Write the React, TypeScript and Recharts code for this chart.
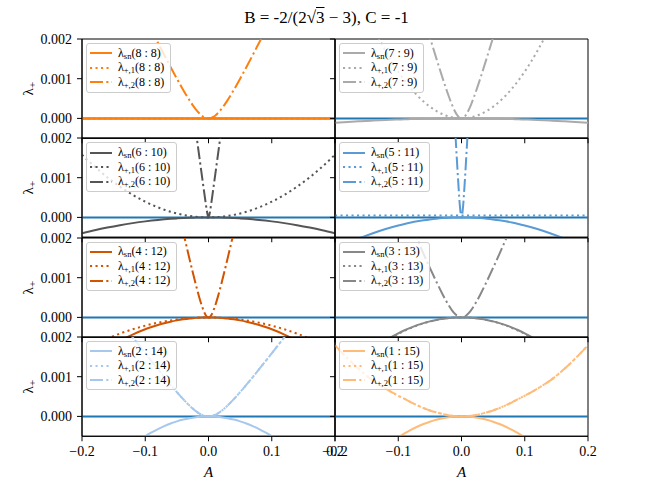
import React from 'react';
import { LineChart, Line, XAxis, YAxis, ReferenceArea } from 'recharts';

// sample points along A (shared by every panel)
const A_VALUES = [-0.2, -0.18, -0.16, -0.14, -0.12, -0.1, -0.09, -0.08, -0.07, -0.06, -0.05, -0.04, -0.03, -0.025, -0.02, -0.015, -0.01, -0.0075, -0.005, -0.0025, 0, 0.0025, 0.005, 0.0075, 0.01, 0.015, 0.02, 0.025, 0.03, 0.04, 0.05, 0.06, 0.07, 0.08, 0.09, 0.1, 0.12, 0.14, 0.16, 0.18, 0.2];
const X_TICKS = [-0.2, -0.1, 0, 0.1, 0.2];
const Y_TICKS = [0, 0.001, 0.002];
const Y_MIN = -0.0005;
const Y_MAX = 0.002;

// 8 : 8
const SN_8_8 = [0, 0, 0, 0, 0, 0, 0, 0, 0, 0, 0, 0, 0, 0, 0, 0, 0, 0, 0, 0, 0, 0, 0, 0, 0, 0, 0, 0, 0, 0, 0, 0, 0, 0, 0, 0, 0, 0, 0, 0, 0];
const P1_8_8 = [0, 0, 0, 0, 0, 0, 0, 0, 0, 0, 0, 0, 0, 0, 0, 0, 0, 0, 0, 0, 0, 0, 0, 0, 0, 0, 0, 0, 0, 0, 0, 0, 0, 0, 0, 0, 0, 0, 0, 0, 0];
const P2_8_8 = [5.72e-3, 5.08e-3, 4.44e-3, 3.8e-3, 3.16e-3, 2.53e-3, 2.216e-3, 1.906e-3, 1.598e-3, 1.296e-3, 1.0e-3, 7.18e-4, 4.55e-4, 3.36e-4, 2.27e-4, 1.35e-4, 6.2e-5, 3.6e-5, 1.6e-5, 4e-6, 0, 4e-6, 1.6e-5, 3.6e-5, 6.2e-5, 1.35e-4, 2.27e-4, 3.36e-4, 4.55e-4, 7.18e-4, 1.0e-3, 1.296e-3, 1.598e-3, 1.906e-3, 2.216e-3, 2.53e-3, 3.16e-3, 3.8e-3, 4.44e-3, 5.08e-3, 5.72e-3];

// 7 : 9
const SN_7_9 = [-1.12e-4, -9.1e-5, -7.2e-5, -5.5e-5, -4e-5, -2.8e-5, -2.3e-5, -1.8e-5, -1.4e-5, -1e-5, -7e-6, -4.5e-6, -2.5e-6, -1.8e-6, -1.1e-6, -6e-7, -3e-7, -2e-7, -1e-7, 0, 0, 0, -1e-7, -2e-7, -3e-7, -6e-7, -1.1e-6, -1.8e-6, -2.5e-6, -4.5e-6, -7e-6, -1e-5, -1.4e-5, -1.8e-5, -2.3e-5, -2.8e-5, -4e-5, -5.5e-5, -7.2e-5, -9.1e-5, -1.12e-4];
const P1_7_9 = [4.72e-3, 3.82e-3, 3.02e-3, 2.31e-3, 1.7e-3, 1.18e-3, 9.56e-4, 7.55e-4, 5.78e-4, 4.25e-4, 2.95e-4, 1.89e-4, 1.06e-4, 7.4e-5, 4.7e-5, 2.66e-5, 1.18e-5, 6.6e-6, 3e-6, 7e-7, 0, 7e-7, 3e-6, 6.6e-6, 1.18e-5, 2.66e-5, 4.7e-5, 7.4e-5, 1.06e-4, 1.89e-4, 2.95e-4, 4.25e-4, 5.78e-4, 7.55e-4, 9.56e-4, 1.18e-3, 1.7e-3, 2.31e-3, 3.02e-3, 3.82e-3, 4.72e-3];
const P2_7_9 = [1.017e-2, 9.07e-3, 7.99e-3, 6.89e-3, 5.81e-3, 4.72e-3, 4.18e-3, 3.64e-3, 3.11e-3, 2.57e-3, 2.044e-3, 1.524e-3, 1.021e-3, 7.8e-4, 5.52e-4, 3.43e-4, 1.68e-4, 9.8e-5, 4.5e-5, 1.15e-5, 0, 1.15e-5, 4.5e-5, 9.8e-5, 1.68e-4, 3.43e-4, 5.52e-4, 7.8e-4, 1.021e-3, 1.524e-3, 2.044e-3, 2.57e-3, 3.11e-3, 3.64e-3, 4.18e-3, 4.72e-3, 5.81e-3, 6.89e-3, 7.99e-3, 9.07e-3, 1.017e-2];

// 6 : 10
const SN_6_10 = [-4e-4, -3.24e-4, -2.56e-4, -1.96e-4, -1.44e-4, -1e-4, -8.1e-5, -6.4e-5, -4.9e-5, -3.6e-5, -2.5e-5, -1.6e-5, -9e-6, -6.25e-6, -4e-6, -2.25e-6, -1e-6, -5.6e-7, -2.5e-7, -6e-8, 0, -6e-8, -2.5e-7, -5.6e-7, -1e-6, -2.25e-6, -4e-6, -6.25e-6, -9e-6, -1.6e-5, -2.5e-5, -3.6e-5, -4.9e-5, -6.4e-5, -8.1e-5, -1e-4, -1.44e-4, -1.96e-4, -2.56e-4, -3.24e-4, -4e-4];
const P1_6_10 = [1.58e-3, 1.28e-3, 1.01e-3, 7.74e-4, 5.69e-4, 3.95e-4, 3.2e-4, 2.53e-4, 1.94e-4, 1.42e-4, 9.9e-5, 6.3e-5, 3.56e-5, 2.47e-5, 1.58e-5, 8.9e-6, 4e-6, 2.2e-6, 1e-6, 2.5e-7, 0, 2.5e-7, 1e-6, 2.2e-6, 4e-6, 8.9e-6, 1.58e-5, 2.47e-5, 3.56e-5, 6.3e-5, 9.9e-5, 1.42e-4, 1.94e-4, 2.53e-4, 3.2e-4, 3.95e-4, 5.69e-4, 7.74e-4, 1.01e-3, 1.28e-3, 1.58e-3];
const P2_6_10 = [2.346e-2, 2.11e-2, 1.874e-2, 1.637e-2, 1.4e-2, 1.164e-2, 1.046e-2, 9.27e-3, 8.09e-3, 6.9e-3, 5.72e-3, 4.54e-3, 3.35e-3, 2.77e-3, 2.176e-3, 1.586e-3, 1.0e-3, 7.1e-4, 4.25e-4, 1.57e-4, 0, 1.57e-4, 4.25e-4, 7.1e-4, 1.0e-3, 1.586e-3, 2.176e-3, 2.77e-3, 3.35e-3, 4.54e-3, 5.72e-3, 6.9e-3, 8.09e-3, 9.27e-3, 1.046e-2, 1.164e-2, 1.4e-2, 1.637e-2, 1.874e-2, 2.11e-2, 2.346e-2];

// 5 : 11
const SN_5_11 = [-8.12e-4, -6.58e-4, -5.2e-4, -3.98e-4, -2.92e-4, -2.03e-4, -1.64e-4, -1.3e-4, -9.95e-5, -7.31e-5, -5.08e-5, -3.25e-5, -1.83e-5, -1.27e-5, -8.1e-6, -4.57e-6, -2.03e-6, -1.14e-6, -5.1e-7, -1.3e-7, 0, -1.3e-7, -5.1e-7, -1.14e-6, -2.03e-6, -4.57e-6, -8.1e-6, -1.27e-5, -1.83e-5, -3.25e-5, -5.08e-5, -7.31e-5, -9.95e-5, -1.3e-4, -1.64e-4, -2.03e-4, -2.92e-4, -3.98e-4, -5.2e-4, -6.58e-4, -8.12e-4];
const P1_5_11 = [5e-5, 5e-5, 5e-5, 5e-5, 5e-5, 5e-5, 5e-5, 5e-5, 5e-5, 5e-5, 5e-5, 5e-5, 5e-5, 5e-5, 5e-5, 5e-5, 5e-5, 5e-5, 5e-5, 5e-5, 5e-5, 5e-5, 5e-5, 5e-5, 5e-5, 5e-5, 5e-5, 5e-5, 5e-5, 5e-5, 5e-5, 5e-5, 5e-5, 5e-5, 5e-5, 5e-5, 5e-5, 5e-5, 5e-5, 5e-5, 5e-5];
const P2_5_11 = [5.72e-2, 5.14e-2, 4.56e-2, 3.98e-2, 3.4e-2, 2.82e-2, 2.53e-2, 2.24e-2, 1.95e-2, 1.66e-2, 1.371e-2, 1.083e-2, 7.94e-3, 6.49e-3, 5.05e-3, 3.62e-3, 2.204e-3, 1.513e-3, 8.52e-4, 2.78e-4, 0, 2.78e-4, 8.52e-4, 1.513e-3, 2.204e-3, 3.62e-3, 5.05e-3, 6.49e-3, 7.94e-3, 1.083e-2, 1.371e-2, 1.66e-2, 1.95e-2, 2.24e-2, 2.53e-2, 2.82e-2, 3.4e-2, 3.98e-2, 4.56e-2, 5.14e-2, 5.72e-2];

// 4 : 12
const SN_4_12 = [-1.2e-3, -9.72e-4, -7.68e-4, -5.88e-4, -4.32e-4, -3e-4, -2.43e-4, -1.92e-4, -1.47e-4, -1.08e-4, -7.5e-5, -4.8e-5, -2.7e-5, -1.88e-5, -1.2e-5, -6.75e-6, -3e-6, -1.69e-6, -7.5e-7, -1.9e-7, 0, -1.9e-7, -7.5e-7, -1.69e-6, -3e-6, -6.75e-6, -1.2e-5, -1.88e-5, -2.7e-5, -4.8e-5, -7.5e-5, -1.08e-4, -1.47e-4, -1.92e-4, -2.43e-4, -3e-4, -4.32e-4, -5.88e-4, -7.68e-4, -9.72e-4, -1.2e-3];
const P1_4_12 = [-8.32e-4, -6.74e-4, -5.32e-4, -4.08e-4, -3e-4, -2.08e-4, -1.68e-4, -1.33e-4, -1.02e-4, -7.49e-5, -5.2e-5, -3.33e-5, -1.87e-5, -1.3e-5, -8.3e-6, -4.68e-6, -2.08e-6, -1.17e-6, -5.2e-7, -1.3e-7, 0, -1.3e-7, -5.2e-7, -1.17e-6, -2.08e-6, -4.68e-6, -8.3e-6, -1.3e-5, -1.87e-5, -3.33e-5, -5.2e-5, -7.49e-5, -1.02e-4, -1.33e-4, -1.68e-4, -2.08e-4, -3e-4, -4.08e-4, -5.32e-4, -6.74e-4, -8.32e-4];
const P2_4_12 = [1.344e-2, 1.201e-2, 1.06e-2, 9.18e-3, 7.76e-3, 6.348e-3, 5.642e-3, 4.937e-3, 4.234e-3, 3.533e-3, 2.837e-3, 2.147e-3, 1.472e-3, 1.144e-3, 8.27e-4, 5.29e-4, 2.68e-4, 1.6e-4, 7.46e-5, 1.93e-5, 0, 1.93e-5, 7.46e-5, 1.6e-4, 2.68e-4, 5.29e-4, 8.27e-4, 1.144e-3, 1.472e-3, 2.147e-3, 2.837e-3, 3.533e-3, 4.234e-3, 4.937e-3, 5.642e-3, 6.348e-3, 7.76e-3, 9.18e-3, 1.06e-2, 1.201e-2, 1.344e-2];

// 3 : 13
const SN_3_13 = [-1.6e-3, -1.296e-3, -1.024e-3, -7.84e-4, -5.76e-4, -4e-4, -3.24e-4, -2.56e-4, -1.96e-4, -1.44e-4, -1e-4, -6.4e-5, -3.6e-5, -2.5e-5, -1.6e-5, -9e-6, -4e-6, -2.25e-6, -1e-6, -2.5e-7, 0, -2.5e-7, -1e-6, -2.25e-6, -4e-6, -9e-6, -1.6e-5, -2.5e-5, -3.6e-5, -6.4e-5, -1e-4, -1.44e-4, -1.96e-4, -2.56e-4, -3.24e-4, -4e-4, -5.76e-4, -7.84e-4, -1.024e-3, -1.296e-3, -1.6e-3];
const P1_3_13 = [-1.66e-3, -1.345e-3, -1.062e-3, -8.13e-4, -5.98e-4, -4.15e-4, -3.36e-4, -2.66e-4, -2.03e-4, -1.49e-4, -1.04e-4, -6.64e-5, -3.74e-5, -2.59e-5, -1.66e-5, -9.3e-6, -4.15e-6, -2.33e-6, -1.04e-6, -2.6e-7, 0, -2.6e-7, -1.04e-6, -2.33e-6, -4.15e-6, -9.3e-6, -1.66e-5, -2.59e-5, -3.74e-5, -6.64e-5, -1.04e-4, -1.49e-4, -2.03e-4, -2.66e-4, -3.36e-4, -4.15e-4, -5.98e-4, -8.13e-4, -1.062e-3, -1.345e-3, -1.66e-3];
const P2_3_13 = [6.8e-3, 6.05e-3, 5.3e-3, 4.55e-3, 3.804e-3, 3.061e-3, 2.692e-3, 2.325e-3, 1.961e-3, 1.601e-3, 1.249e-3, 9.07e-4, 5.85e-4, 4.36e-4, 2.99e-4, 1.79e-4, 8.41e-5, 4.84e-5, 2.18e-5, 5.5e-6, 0, 5.5e-6, 2.18e-5, 4.84e-5, 8.41e-5, 1.79e-4, 2.99e-4, 4.36e-4, 5.85e-4, 9.07e-4, 1.249e-3, 1.601e-3, 1.961e-3, 2.325e-3, 2.692e-3, 3.061e-3, 3.804e-3, 4.55e-3, 5.3e-3, 6.05e-3, 6.8e-3];

// 2 : 14
const SN_2_14 = [-2e-3, -1.62e-3, -1.28e-3, -9.8e-4, -7.2e-4, -5e-4, -4.05e-4, -3.2e-4, -2.45e-4, -1.8e-4, -1.25e-4, -8e-5, -4.5e-5, -3.13e-5, -2e-5, -1.13e-5, -5e-6, -2.81e-6, -1.25e-6, -3.1e-7, 0, -3.1e-7, -1.25e-6, -2.81e-6, -5e-6, -1.13e-5, -2e-5, -3.13e-5, -4.5e-5, -8e-5, -1.25e-4, -1.8e-4, -2.45e-4, -3.2e-4, -4.05e-4, -5e-4, -7.2e-4, -9.8e-4, -1.28e-3, -1.62e-3, -2e-3];
const P1_2_14 = [3.653e-3, 3.237e-3, 2.822e-3, 2.408e-3, 1.997e-3, 1.589e-3, 1.387e-3, 1.188e-3, 9.91e-4, 7.98e-4, 6.12e-4, 4.34e-4, 2.71e-4, 1.98e-4, 1.33e-4, 7.8e-5, 3.59e-5, 2.04e-5, 9.2e-6, 2.3e-6, 0, 2.3e-6, 9.2e-6, 2.04e-5, 3.59e-5, 7.8e-5, 1.33e-4, 1.98e-4, 2.71e-4, 4.34e-4, 6.12e-4, 7.98e-4, 9.91e-4, 1.188e-3, 1.387e-3, 1.589e-3, 1.997e-3, 2.408e-3, 2.822e-3, 3.237e-3, 3.653e-3];
const P2_2_14 = [3.653e-3, 3.237e-3, 2.822e-3, 2.408e-3, 1.997e-3, 1.589e-3, 1.387e-3, 1.188e-3, 9.91e-4, 7.98e-4, 6.12e-4, 4.34e-4, 2.71e-4, 1.98e-4, 1.33e-4, 7.8e-5, 3.59e-5, 2.04e-5, 9.2e-6, 2.3e-6, 0, 2.3e-6, 9.2e-6, 2.04e-5, 3.59e-5, 7.8e-5, 1.33e-4, 1.98e-4, 2.71e-4, 4.34e-4, 6.12e-4, 7.98e-4, 9.91e-4, 1.188e-3, 1.387e-3, 1.589e-3, 1.997e-3, 2.408e-3, 2.822e-3, 3.237e-3, 3.653e-3];

// 1 : 15
const SN_1_15 = [-2.12e-3, -1.717e-3, -1.357e-3, -1.039e-3, -7.63e-4, -5.3e-4, -4.29e-4, -3.39e-4, -2.6e-4, -1.91e-4, -1.33e-4, -8.48e-5, -4.77e-5, -3.31e-5, -2.12e-5, -1.19e-5, -5.3e-6, -2.98e-6, -1.33e-6, -3.3e-7, 0, -3.3e-7, -1.33e-6, -2.98e-6, -5.3e-6, -1.19e-5, -2.12e-5, -3.31e-5, -4.77e-5, -8.48e-5, -1.33e-4, -1.91e-4, -2.6e-4, -3.39e-4, -4.29e-4, -5.3e-4, -7.63e-4, -1.039e-3, -1.357e-3, -1.717e-3, -2.12e-3];
const P1_1_15 = [1.79e-3, 1.46e-3, 1.16e-3, 9e-4, 7e-4, 5.2e-4, 4.4e-4, 3.55e-4, 2.8e-4, 2.1e-4, 1.5e-4, 1.03e-4, 6e-5, 4.2e-5, 2.6e-5, 1.45e-5, 6.4e-6, 3.6e-6, 1.6e-6, 4e-7, 0, 4e-7, 1.6e-6, 3.6e-6, 6.4e-6, 1.45e-5, 2.6e-5, 4.2e-5, 6e-5, 1.03e-4, 1.5e-4, 2.1e-4, 2.8e-4, 3.55e-4, 4.4e-4, 5.2e-4, 7e-4, 9e-4, 1.16e-3, 1.46e-3, 1.79e-3];
const P2_1_15 = [1.79e-3, 1.46e-3, 1.16e-3, 9e-4, 7e-4, 5.2e-4, 4.4e-4, 3.55e-4, 2.8e-4, 2.1e-4, 1.5e-4, 1.03e-4, 6e-5, 4.2e-5, 2.6e-5, 1.45e-5, 6.4e-6, 3.6e-6, 1.6e-6, 4e-7, 0, 4e-7, 1.6e-6, 3.6e-6, 6.4e-6, 1.45e-5, 2.6e-5, 4.2e-5, 6e-5, 1.03e-4, 1.5e-4, 2.1e-4, 2.8e-4, 3.55e-4, 4.4e-4, 5.2e-4, 7e-4, 9e-4, 1.16e-3, 1.46e-3, 1.79e-3];

const PANELS = [
  { ratio: '8 : 8', color: '#ff7f0e', sn: SN_8_8, p1: P1_8_8, p2: P2_8_8 },
  { ratio: '7 : 9', color: '#aaaaaa', sn: SN_7_9, p1: P1_7_9, p2: P2_7_9 },
  { ratio: '6 : 10', color: '#555555', sn: SN_6_10, p1: P1_6_10, p2: P2_6_10 },
  { ratio: '5 : 11', color: '#5b9bd5', sn: SN_5_11, p1: P1_5_11, p2: P2_5_11 },
  { ratio: '4 : 12', color: '#d25400', sn: SN_4_12, p1: P1_4_12, p2: P2_4_12 },
  { ratio: '3 : 13', color: '#888888', sn: SN_3_13, p1: P1_3_13, p2: P2_3_13 },
  { ratio: '2 : 14', color: '#a6c8ec', sn: SN_2_14, p1: P1_2_14, p2: P2_2_14 },
  { ratio: '1 : 15', color: '#ffbb78', sn: SN_1_15, p1: P1_1_15, p2: P2_1_15 },
];

const SERIF = '"Liberation Serif", "DejaVu Serif", serif';
const ZERO_COLOR = '#1f77b4';
const DOTTED = '2.1 3.4';
const DASHDOT = '13 3.3 2.1 3.3';

const COL_X = [82, 335];
const ROW_Y = [39, 138.25, 237.5, 336.75];
const PLOT_W = 253;
const PLOT_H = 99.25;
const AXIS_W = 70;
const PAD = 10;

const fmtX = (v: number) => (v < 0 ? '\u2212' : '') + Math.abs(v).toFixed(1);
const fmtY = (v: number) => v.toFixed(3);

const LEGEND_ROWS = [
  { sub: 'sn', dash: undefined },
  { sub: '+,1', dash: DOTTED },
  { sub: '+,2', dash: DASHDOT },
];

const LegendBox = ({ x, y, color, ratio }: any) => (
  <div
    style={{
      position: 'absolute', left: x, top: y, background: 'rgba(255,255,255,0.8)',
      border: '1px solid #cccccc', borderRadius: 3, padding: '2px 6px 2px 3px',
      fontFamily: SERIF, fontSize: 12, color: '#000',
    }}
  >
    {LEGEND_ROWS.map((r) => (
      <div key={r.sub} style={{ display: 'flex', alignItems: 'center', height: 14.5, whiteSpace: 'nowrap' }}>
        <svg width={22} height={8} style={{ marginRight: 6 }}>
          <line x1={0} x2={22} y1={4} y2={4} stroke={color} strokeWidth={2} strokeDasharray={r.dash} />
        </svg>
        <span>
          λ<span style={{ fontSize: 8.5, position: 'relative', top: 2 }}>{r.sub}</span>({ratio})
        </span>
      </div>
    ))}
  </div>
);

const yLabel = () => (
  <text x={16} y={PAD + PLOT_H / 2} transform={`rotate(-90, 16, ${PAD + PLOT_H / 2})`} textAnchor="middle" dominantBaseline="central" fontFamily={SERIF} fontSize={15} fill="#000">
    λ<tspan fontSize={11} dy={4}>+</tspan>
  </text>
);

const Panel = ({ panel, index }: any) => {
  const col = index % 2;
  const row = Math.floor(index / 2);
  const bottom = row === 3;
  const left = col === 0;
  const plotX = COL_X[col];
  const plotY = ROW_Y[row];
  const xAxisH = bottom ? 45 : 10;
  const rows = A_VALUES.map((a, i) => ({ a, zero: 0, sn: panel.sn[i], p1: panel.p1[i], p2: panel.p2[i] }));
  const tickStyle = { fill: '#000', fontSize: 14, fontFamily: SERIF };

  return (
    <>
      <div style={{ position: 'absolute', left: plotX - AXIS_W, top: plotY - PAD }}>
        <LineChart width={AXIS_W + PLOT_W + PAD} height={PAD + PLOT_H + xAxisH} data={rows} margin={{ top: PAD, right: PAD, left: 0, bottom: 0 }}>
          <XAxis
            dataKey="a" type="number" domain={[-0.2, 0.2]} ticks={X_TICKS} allowDataOverflow
            height={xAxisH} tickSize={5} tickMargin={5} tick={tickStyle}
            tickFormatter={bottom ? fmtX : () => ''}
            axisLine={{ stroke: '#000' }} tickLine={{ stroke: '#000' }}
            label={bottom ? { value: 'A', position: 'insideBottom', offset: 4, fill: '#000', fontSize: 15, fontFamily: SERIF, fontStyle: 'italic' } : undefined}
          />
          <YAxis
            type="number" domain={[Y_MIN, Y_MAX]} ticks={Y_TICKS} allowDataOverflow
            width={AXIS_W} tickSize={5} tickMargin={5} tick={tickStyle}
            tickFormatter={left ? fmtY : () => ''}
            axisLine={{ stroke: '#000' }} tickLine={{ stroke: '#000' }}
            label={left ? yLabel : undefined}
          />
          <Line dataKey="zero" stroke={ZERO_COLOR} strokeWidth={2} dot={false} isAnimationActive={false} />
          <Line dataKey="sn" type="monotone" stroke={panel.color} strokeWidth={2} dot={false} isAnimationActive={false} />
          <Line dataKey="p1" type="monotone" stroke={panel.color} strokeWidth={2} strokeDasharray={DOTTED} dot={false} isAnimationActive={false} />
          <Line dataKey="p2" type="monotone" stroke={panel.color} strokeWidth={2} strokeDasharray={DASHDOT} dot={false} isAnimationActive={false} />
          <ReferenceArea x1={-0.2} x2={0.2} y1={Y_MIN} y2={Y_MAX} fill="none" stroke="#000" strokeWidth={1} ifOverflow="visible" />
        </LineChart>
      </div>
      <LegendBox x={plotX + 4} y={plotY + 4} color={panel.color} ratio={panel.ratio} />
    </>
  );
};

export default function App() {
  return (
    <div style={{ position: 'absolute', left: 0, top: 0, width: 653, height: 490, background: '#fff' }}>
      <div style={{ position: 'absolute', left: 0, top: 8, width: 653, textAlign: 'center', fontFamily: SERIF, fontSize: 17, lineHeight: '20px', color: '#000' }}>
        B = -2/(2√<span style={{ textDecoration: 'overline' }}>3</span> − 3), C = -1
      </div>
      {PANELS.map((p, i) => (
        <Panel key={p.ratio} panel={p} index={i} />
      ))}
    </div>
  );
}
